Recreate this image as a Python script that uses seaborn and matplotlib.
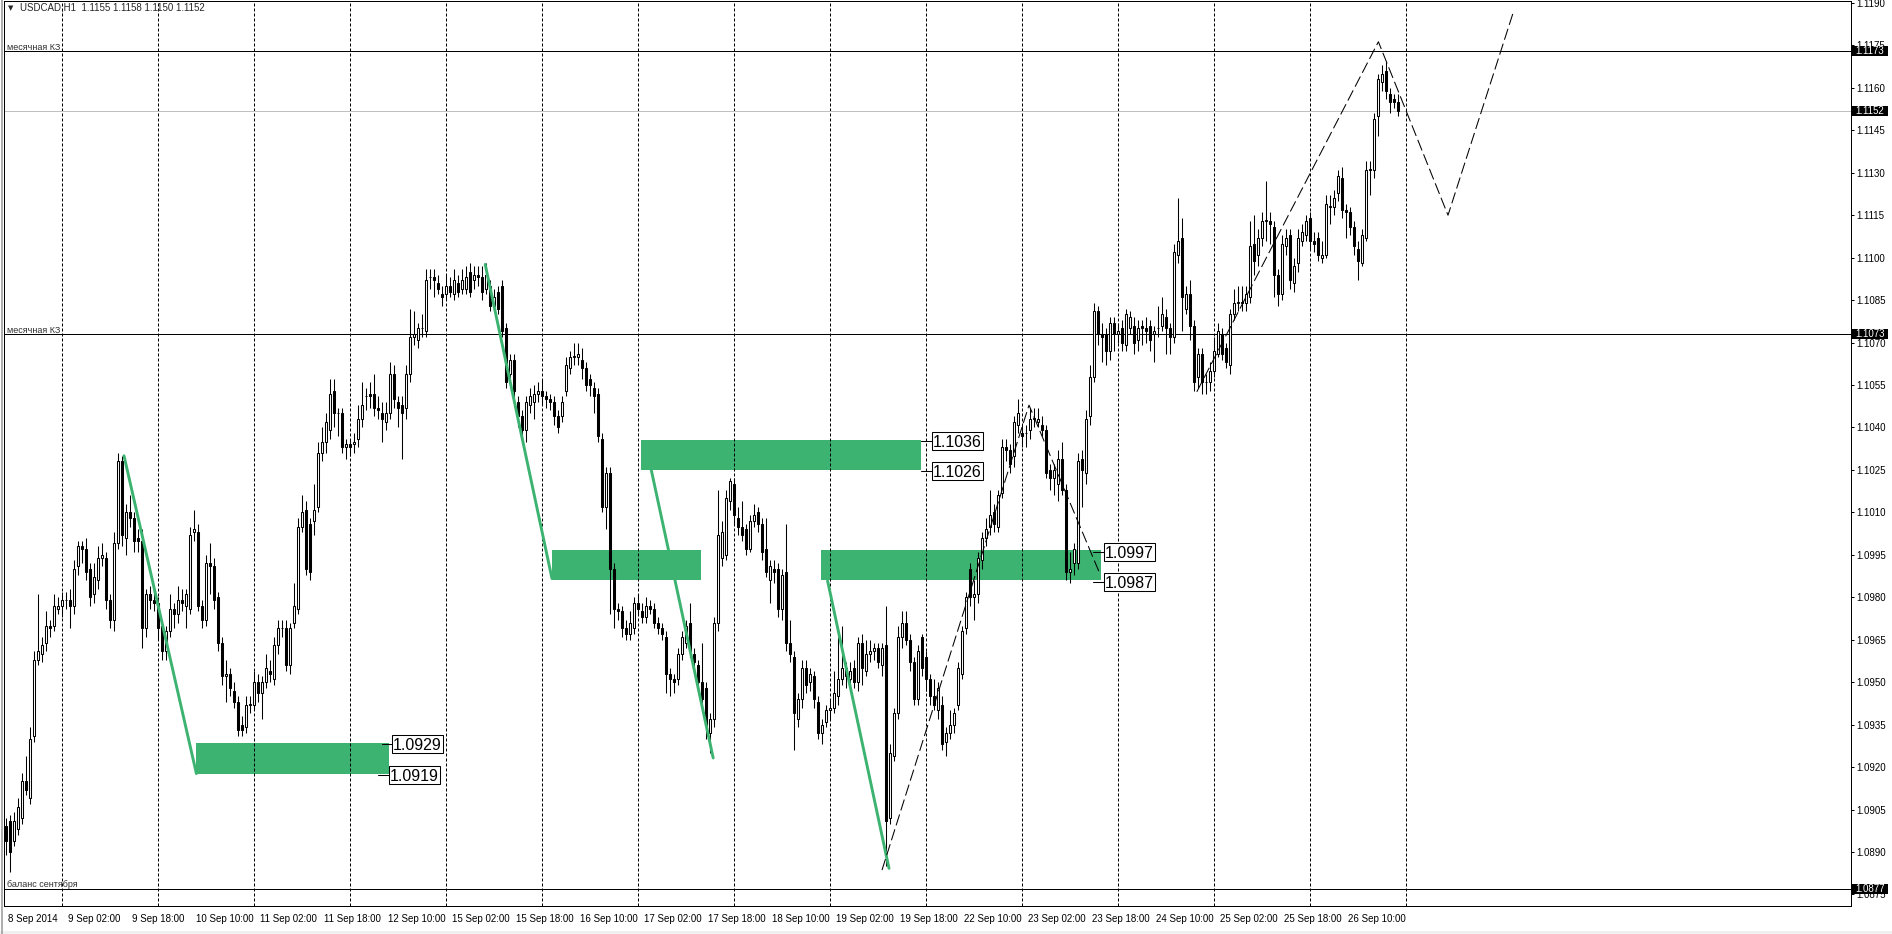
import numpy as np
import pandas as pd
import seaborn as sns
import matplotlib.pyplot as plt
import matplotlib.transforms as mtransforms
from matplotlib.patches import Rectangle
from matplotlib.lines import Line2D

# hourly USDCAD candles, stored as pips above 1.0800 (bar 0 = 8 Sep 11:00)
BASE = 1.0800
PIP = 0.0001

opens = [
    99, 101, 94, 98, 102, 115, 109, 131, 158, 160,
    164, 170, 170, 176, 177, 179, 179, 177, 191, 198,
    197, 190, 181, 186, 194, 194, 179, 172, 199, 228,
    201, 210, 208, 201, 200, 169, 181, 179, 178, 170,
    161, 168, 176, 174, 179, 177, 176, 203, 203, 177,
    172, 192, 191, 180, 164, 152, 153, 147, 143, 135,
    134, 142, 142, 150, 146, 150, 154, 151, 163, 169,
    169, 156, 171, 176, 205, 211, 206, 207, 212, 231,
    235, 239, 253, 245, 245, 233, 234, 234, 236, 243,
    251, 252, 252, 247, 245, 242, 245, 259, 249, 248,
    247, 259, 272, 271, 275, 274, 293, 293, 291, 287,
    287, 290, 287, 291, 289, 289, 295, 292, 294, 293,
    289, 290, 283, 288, 290, 275, 259, 264, 249, 244,
    239, 248, 249, 252, 253, 251, 250, 249, 244, 244,
    253, 261, 265, 265, 264, 261, 257, 254, 252, 236,
    212,
    224, 190, 176, 175, 169, 167, 169, 178, 175, 173,
    177, 176, 171, 169, 166, 153, 151, 151, 160, 164,
    171, 160, 156, 150, 148, 132, 137, 171, 194, 195,
    214, 220, 208, 205, 204, 197, 207, 210, 206, 197,
    186, 190, 190, 176, 189, 164, 159, 137, 144, 155,
    150, 152, 143, 132, 136, 140, 141, 145, 151, 155,
    151, 155, 150, 164, 154, 160, 161, 162, 156, 163,
    102, 124, 139, 166, 171, 165, 157, 144, 166, 159,
    151, 145, 140, 142, 129, 132, 135, 142, 153, 169,
    190, 180, 181, 193, 201, 205, 210, 205, 217, 233,
    232, 230, 241, 238, 238, 239, 243, 242, 241, 239,
    225, 222, 220, 229, 218, 189, 192, 192, 229, 224,
    244,
    258, 281, 273, 273, 267, 277, 273, 275, 269, 275,
    276, 271, 276, 275, 276, 273, 275, 276, 279, 275,
    272, 301, 307, 282, 287, 276, 258, 266, 256, 256,
    260, 266, 273, 268, 262, 280, 284, 284, 284, 286,
    305, 301, 307, 313, 313, 311, 294, 287, 304, 308,
    291, 298, 306, 308, 314, 306, 307, 300, 301, 318,
    318, 323, 328, 317, 316, 311, 303, 298, 307, 331,
    331, 350, 362, 366, 358, 356, 355,
]
highs = [
    102, 103, 104, 109, 118, 124, 134, 161, 181, 166,
    175, 172, 181, 180, 182, 182, 183, 193, 200, 200,
    201, 192, 192, 198, 199, 196, 181, 203, 231, 230,
    213, 216, 210, 204, 204, 183, 184, 184, 180, 172,
    170, 181, 178, 184, 183, 183, 205, 211, 206, 179,
    195, 199, 194, 182, 166, 158, 155, 150, 145, 138,
    145, 145, 154, 153, 152, 160, 158, 166, 172, 172,
    172, 171, 185, 208, 216, 214, 208, 220, 235, 240,
    245, 257, 257, 247, 247, 236, 236, 238, 248, 256,
    254, 256, 259, 251, 249, 249, 263, 262, 251, 251,
    262, 282, 281, 277, 280, 296, 296, 296, 294, 290,
    294, 293, 296, 294, 296, 297, 298, 297, 297, 297,
    298, 292, 289, 290, 292, 277, 266, 266, 251, 246,
    251, 254, 255, 256, 257, 253, 252, 251, 246, 251,
    265, 267, 270, 270, 268, 263, 259, 256, 254, 238,
    226,
    226, 192, 178, 177, 172, 175, 180, 181, 178, 180,
    179, 178, 173, 171, 168, 155, 153, 162, 168, 172,
    178, 162, 158, 164, 150, 139, 173, 218, 207, 218,
    222, 222, 212, 214, 206, 209, 213, 212, 208, 208,
    193, 193, 192, 190, 206, 172, 161, 146, 158, 158,
    155, 154, 145, 137, 142, 144, 154, 166, 170, 157,
    157, 158, 166, 167, 165, 165, 164, 164, 164, 177,
    128, 141, 170, 175, 175, 167, 159, 163, 167, 161,
    153, 151, 150, 145, 134, 140, 141, 157, 170, 182,
    192, 186, 196, 203, 208, 218, 213, 218, 236, 236,
    234, 244, 250, 241, 241, 247, 247, 247, 244, 241,
    227, 227, 232, 235, 220, 196, 199, 231, 232, 246,
    262,
    284, 283, 277, 275, 279, 279, 277, 278, 282, 281,
    279, 278, 278, 279, 278, 276, 283, 286, 282, 277,
    305, 321, 314, 290, 292, 278, 268, 268, 259, 263,
    272, 277, 275, 270, 282, 289, 290, 290, 290, 313,
    315, 310, 316, 327, 316, 313, 296, 308, 310, 310,
    300, 310, 312, 315, 316, 309, 309, 306, 322, 322,
    324, 331, 332, 319, 318, 313, 306, 310, 334, 334,
    351, 365, 368, 369, 360, 358, 358,
]
lows = [
    89, 83, 92, 96, 100, 110, 107, 129, 156, 157,
    161, 166, 168, 174, 173, 176, 169, 174, 188, 192,
    186, 177, 178, 183, 191, 176, 169, 168, 197, 198,
    195, 205, 196, 196, 162, 166, 176, 175, 165, 158,
    158, 166, 169, 171, 175, 169, 174, 200, 175, 169,
    170, 181, 176, 161, 149, 143, 145, 141, 131, 131,
    132, 139, 140, 143, 137, 148, 150, 149, 160, 166,
    154, 153, 169, 174, 203, 188, 186, 202, 210, 228,
    231, 236, 240, 237, 231, 229, 230, 231, 233, 240,
    246, 247, 244, 243, 235, 239, 243, 247, 240, 229,
    243, 256, 269, 268, 272, 272, 289, 286, 287, 283,
    285, 286, 285, 286, 287, 287, 286, 289, 290, 285,
    287, 281, 282, 280, 272, 254, 257, 250, 240, 236,
    235, 245, 243, 249, 248, 247, 246, 241, 238, 242,
    251, 259, 262, 262, 257, 253, 251, 245, 235, 210,
    204,
    174, 169, 172, 166, 165, 165, 167, 174, 171, 171,
    174, 169, 167, 165, 146, 145, 146, 149, 158, 162,
    159, 154, 147, 142, 130, 125, 134, 168, 191, 193,
    211, 206, 202, 200, 195, 196, 205, 203, 193, 187,
    178, 185, 173, 172, 161, 157, 126, 134, 141, 146,
    147, 141, 130, 128, 134, 137, 139, 142, 149, 148,
    147, 148, 147, 149, 152, 157, 158, 155, 152, 85,
    100, 122, 137, 162, 163, 154, 142, 142, 152, 147,
    142, 140, 137, 126, 124, 130, 132, 140, 151, 167,
    177, 172, 178, 190, 198, 202, 203, 203, 215, 228,
    224, 226, 238, 233, 233, 236, 240, 240, 237, 222,
    218, 216, 214, 216, 186, 185, 188, 190, 212, 220,
    241,
    256, 269, 263, 262, 264, 267, 270, 267, 267, 273,
    266, 267, 269, 270, 267, 263, 272, 274, 266, 266,
    270, 298, 274, 280, 271, 253, 254, 252, 252, 253,
    258, 265, 264, 261, 259, 278, 281, 281, 281, 284,
    294, 297, 304, 306, 305, 286, 283, 285, 301, 289,
    288, 295, 304, 306, 303, 302, 299, 298, 300, 312,
    315, 320, 314, 307, 308, 301, 292, 297, 306, 322,
    328, 343, 359, 356, 351, 353, 350,
]
closes = [
    94, 90, 101, 106, 115, 112, 130, 158, 161, 163,
    170, 169, 177, 177, 179, 179, 177, 190, 198, 197,
    189, 180, 187, 194, 195, 179, 172, 199, 228, 202,
    210, 208, 200, 200, 169, 181, 179, 178, 169, 161,
    168, 176, 174, 179, 178, 181, 202, 204, 177, 172,
    192, 191, 179, 164, 152, 153, 148, 143, 133, 133,
    142, 142, 150, 146, 150, 155, 153, 163, 169, 169,
    156, 169, 177, 205, 210, 190, 189, 211, 231, 235,
    242, 252, 245, 245, 233, 234, 233, 235, 243, 248,
    251, 251, 247, 246, 243, 245, 259, 250, 247, 245,
    259, 272, 273, 275, 275, 292, 293, 292, 289, 286,
    290, 288, 292, 288, 292, 293, 288, 294, 293, 288,
    294, 283, 286, 282, 274, 256, 264, 253, 244, 239,
    249, 251, 252, 253, 251, 250, 249, 244, 240, 249,
    262, 265, 265, 266, 261, 255, 255, 251, 237, 212,
    224,
    190, 176, 175, 169, 167, 171, 178, 176, 173, 177,
    176, 171, 169, 167, 153, 151, 150, 160, 166, 170,
    161, 157, 150, 144, 135, 137, 171, 202, 203, 215,
    221, 209, 205, 202, 197, 207, 209, 206, 196, 189,
    191, 189, 176, 188, 164, 160, 139, 144, 155, 149,
    153, 144, 132, 135, 140, 141, 146, 151, 155, 152,
    154, 150, 164, 155, 160, 161, 162, 157, 162, 101,
    125, 139, 166, 171, 165, 157, 144, 161, 155, 151,
    145, 142, 148, 128, 132, 135, 139, 155, 168, 180,
    180, 181, 194, 201, 204, 209, 206, 216, 233, 232,
    227, 242, 245, 237, 238, 243, 243, 243, 239, 224,
    222, 225, 229, 218, 189, 190, 197, 228, 225, 243,
    258,
    281, 273, 272, 267, 277, 273, 274, 270, 280, 279,
    270, 275, 275, 274, 271, 274, 275, 280, 275, 272,
    302, 306, 286, 287, 276, 256, 266, 256, 256, 260,
    267, 274, 266, 263, 280, 284, 284, 284, 287, 304,
    299, 307, 313, 313, 312, 294, 287, 305, 307, 292,
    297, 307, 309, 313, 306, 305, 301, 301, 319, 318,
    321, 329, 317, 316, 311, 304, 299, 308, 331, 331,
    349, 363, 365, 359, 355, 355, 352,
]

x_labels = ['8 Sep 2014', '9 Sep 02:00', '9 Sep 18:00', '10 Sep 10:00', '11 Sep 02:00',
            '11 Sep 18:00', '12 Sep 10:00', '15 Sep 02:00', '15 Sep 18:00', '16 Sep 10:00',
            '17 Sep 02:00', '17 Sep 18:00', '18 Sep 10:00', '19 Sep 02:00', '19 Sep 18:00',
            '22 Sep 10:00', '23 Sep 02:00', '23 Sep 18:00', '24 Sep 10:00', '25 Sep 02:00',
            '25 Sep 18:00', '26 Sep 10:00']
x_label_bars = [0] + [15 + 16 * k for k in range(21)]
day_grid_bars = list(range(14, 351, 24))
y_tick_values = [1.0875 + 0.0015 * k for k in range(22)]

title_text = 'USDCAD,H1  1.1155 1.1158 1.1150 1.1152'
level_prices = [1.1173, 1.1073, 1.0877]
level_names = ['месячная КЗ', 'месячная КЗ', 'баланс сентября']
bid_price = 1.1152

# green supply/demand zones
zone_left = [47.6, 158.75, 203.7, 136.5]
zone_right = [95.8, 228.75, 273.7, 173.65]
zone_low = [1.09177, 1.10251, 1.09860, 1.09860]
zone_high = [1.09285, 1.10354, 1.09966, 1.09966]

# price labels next to the zones
tag_text = ['1.0929', '1.0919', '1.1036', '1.1026', '1.0997', '1.0987']
tag_price = [1.09285, 1.09177, 1.10354, 1.10251, 1.09963, 1.09858]
tag_bar = [96.5, 95.75, 231.5, 231.5, 274.5, 274.5]
tag_stub = [94.0, 93.1, 228.75, 228.75, 271.75, 271.75]

trend_bars = [[29.5, 47.6], [119.8, 136.5], [161.3, 176.8], [205.4, 220.75]]
trend_prices = [[1.10300, 1.09177], [1.10976, 1.09866], [1.10251, 1.09232], [1.09858, 1.08842]]

wave_a_bar = [219, 255.75, 273.5]
wave_a_price = [1.08836, 1.10479, 1.09882]
wave_b_bar = [297.7, 343.1, 360.5, 377]
wave_b_price = [1.10526, 1.11763, 1.11150, 1.11875]

GREEN = '#3CB371'
W, H = 1892, 934
PX_BAR = 4.0          # pixels per bar
PX_PRICE = 28300.0    # pixels per 1.0 of price

sns.set_style('white')
plt.rcParams['font.family'] = ['Liberation Sans', 'DejaVu Sans']

df = pd.DataFrame({'o': opens, 'h': highs, 'l': lows, 'c': closes})
df = df * PIP + BASE
df['h'] = df[['o', 'h', 'c']].max(axis=1)
df['l'] = df[['o', 'l', 'c']].min(axis=1)
df['bar'] = np.arange(len(df))

fig = plt.figure(figsize=(W / 100, H / 100), dpi=100)
fig.patch.set_facecolor('white')
ax = fig.add_axes([4 / W, (H - 906) / H, (1851 - 4) / W, (906 - 1) / H])
ax.set_facecolor('white')
ax.set_xlim(-0.5, 461.25)
ax.set_ylim(1.08709, 1.11907)

# zones
for x0, x1, lo, hi in zip(zone_left, zone_right, zone_low, zone_high):
    ax.fill_between([x0, x1], [lo, lo], [hi, hi], color=GREEN, lw=0, zorder=1)

# day separators
for b in day_grid_bars:
    ax.axvline(b, color='black', lw=0.72, ls=(0, (3, 2)), zorder=2)

# level lines
for p, name in zip(level_prices, level_names):
    ax.axhline(p, color='black', lw=0.72, zorder=2)
    ax.text(0.25, p + 1.5 / PX_PRICE, name, fontsize=6.5, color='#303030',
            ha='left', va='baseline', zorder=6)
ax.axhline(bid_price, color='#c0c0c0', lw=0.72, zorder=2)

# candles
up = df['c'] >= df['o']
ax.vlines(df['bar'], df['l'], df['h'], color='black', lw=0.75, zorder=3)
body = (df['c'] - df['o']).abs().clip(lower=0.00002)
ax.bar(df['bar'][up], body[up], bottom=df['o'][up], width=0.55,
       color='white', edgecolor='black', linewidth=0.75, zorder=4)
ax.bar(df['bar'][~up], body[~up], bottom=df['c'][~up], width=0.55,
       color='black', edgecolor='black', linewidth=0.75, zorder=4)

# trend lines
for xs, ys in zip(trend_bars, trend_prices):
    sns.lineplot(x=xs, y=ys, ax=ax, color=GREEN, lw=2.1, estimator=None,
                 sort=False, zorder=5)
for xs, ys in [(wave_a_bar, wave_a_price), (wave_b_bar, wave_b_price)]:
    sns.lineplot(x=xs, y=ys, ax=ax, color='black', lw=0.75, estimator=None,
                 sort=False, zorder=5, dashes=False)
    ax.lines[-1].set_linestyle((0, (11, 4)))

# boxed price labels
box_w = 51 / PX_BAR
box_h = 18 / PX_PRICE
for t, p, xb, xs in zip(tag_text, tag_price, tag_bar, tag_stub):
    yc = p - 1 / PX_PRICE
    ax.plot([xs, xb], [yc, yc], color='black', lw=0.75, zorder=6)
    ax.add_patch(Rectangle((xb, yc - box_h / 2), box_w, box_h, fc='white',
                           ec='black', lw=0.75, zorder=7))
    ax.text(xb + box_w / 2, yc - 6 / PX_PRICE, t, fontsize=11.5, ha='center',
            va='baseline', color='black', zorder=8)

# price tags on the right scale
blend = mtransforms.blended_transform_factory(ax.transAxes, ax.transData)
axw = 1847.0
for p in level_prices + [bid_price]:
    ax.add_patch(Rectangle((1 + 1 / axw, p - 5 / PX_PRICE), 36 / axw, 10 / PX_PRICE,
                           transform=blend, fc='black', ec='black', lw=0,
                           clip_on=False, zorder=9))
    ax.text(1 + 19 / axw, p - 3.4 / PX_PRICE, f'{p:.4f}', transform=blend,
            fontsize=7, color='white', ha='center', va='baseline',
            clip_on=False, zorder=10)

# axes
for s in ax.spines.values():
    s.set_color('black')
    s.set_linewidth(0.72)
ax.yaxis.tick_right()
ax.set_yticks(y_tick_values)
ax.set_yticklabels([f'{v:.4f}' for v in y_tick_values])
ax.tick_params(axis='y', direction='out', length=2.2, width=0.72, pad=1.5,
               labelsize=7, colors='black')
ax.set_xticks(x_label_bars)
ax.set_xticklabels(x_labels)
ax.tick_params(axis='x', direction='out', length=3, width=0.72, pad=3,
               labelsize=7, colors='black')
shift = mtransforms.ScaledTranslation(2 / 100, 0, fig.dpi_scale_trans)
for lbl in ax.get_xticklabels():
    lbl.set_ha('left')
    lbl.set_transform(lbl.get_transform() + shift)
ax.set_xlabel('')
ax.set_ylabel('')

# window chrome and title
fig.add_artist(Line2D([1.5 / W, 1.5 / W], [0, 1], color='#a0a0a0', lw=1.2))
fig.patches.append(Rectangle((0, 0), 1, 3 / H, transform=fig.transFigure,
                             fc='#f0f0f0', ec='none'))
fig.text(8 / W, 1 - 8.5 / H, '▼', fontsize=5, va='center', ha='left',
         family=['DejaVu Sans'])
fig.text(20 / W, 1 - 8 / H, title_text, fontsize=7, va='center', ha='left')

fig.savefig('out.png', dpi=100)
